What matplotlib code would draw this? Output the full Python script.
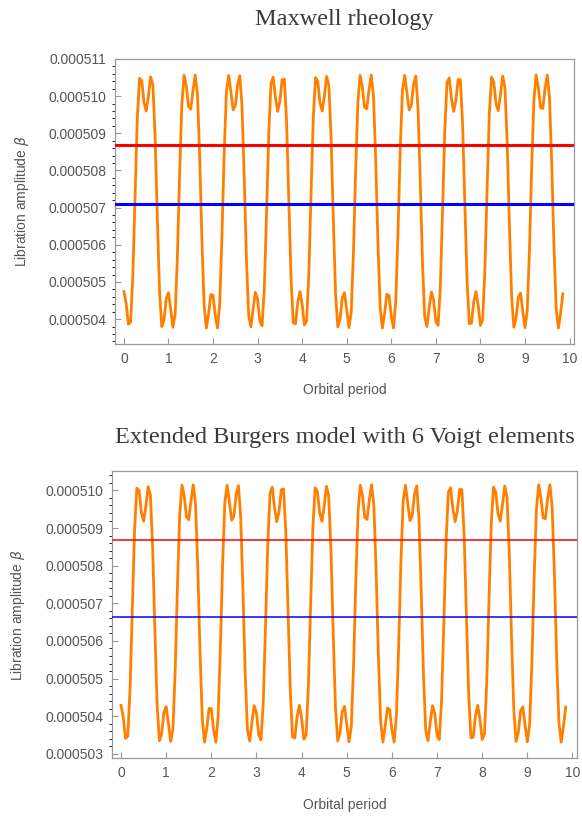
import numpy as np
import matplotlib
matplotlib.use('Agg')
import matplotlib.pyplot as plt
from matplotlib.ticker import MultipleLocator, FuncFormatter

# libration amplitude, in units of 1e-6, sampled every 0.05 orbital period
beta_maxwell = [
    504.74, 504.42, 503.86, 503.92, 505.17, 507.31, 509.39, 510.48, 510.42, 509.84,
    509.60, 509.99, 510.52, 510.31, 508.91, 506.72, 504.73, 503.80, 503.98, 504.55,
    504.71, 504.26, 503.78, 504.13, 505.68, 507.90, 509.79, 510.56, 510.28, 509.72,
    509.65, 510.15, 510.57, 510.06, 508.38, 506.14, 504.37, 503.76, 504.13, 504.66,
    504.64, 504.10, 503.76, 504.42, 506.23, 508.47, 510.11, 510.56, 510.12, 509.63,
    509.74, 510.30, 510.55, 509.73, 507.81, 505.59, 504.09, 503.79, 504.29, 504.72,
    504.53, 503.96, 503.82, 504.80, 506.81, 508.99, 510.34, 510.51, 509.97, 509.59,
    509.86, 510.44, 510.46, 509.32, 507.22, 505.10, 503.90, 503.87, 504.44, 504.74,
    504.39, 503.84, 503.95, 505.25, 507.41, 509.45, 510.50, 510.40, 509.82, 509.60,
    510.01, 510.53, 510.28, 508.84, 506.63, 504.67, 503.79, 504.00, 504.57, 504.71,
    504.24, 503.77, 504.17, 505.76, 507.99, 509.84, 510.56, 510.26, 509.70, 509.66,
    510.17, 510.57, 510.02, 508.30, 506.05, 504.32, 503.76, 504.15, 504.67, 504.63,
    504.08, 503.76, 504.47, 506.32, 508.55, 510.15, 510.56, 510.10, 509.63, 509.75,
    510.33, 510.54, 509.67, 507.72, 505.51, 504.06, 503.80, 504.31, 504.73, 504.51,
    503.94, 503.83, 504.86, 506.90, 509.07, 510.37, 510.49, 509.94, 509.59, 509.89,
    510.45, 510.44, 509.25, 507.13, 505.03, 503.88, 503.89, 504.46, 504.74, 504.37,
    503.83, 503.98, 505.32, 507.50, 509.52, 510.51, 510.38, 509.80, 509.61, 510.04,
    510.54, 510.25, 508.76, 506.54, 504.61, 503.78, 504.02, 504.59, 504.70, 504.21,
    503.77, 504.21, 505.84, 508.08, 509.89, 510.57, 510.23, 509.69, 509.67, 510.20,
    510.57, 509.97, 508.21, 505.97, 504.28, 503.76, 504.17, 504.68,
]

beta_burgers = [
    504.29, 503.97, 503.41, 503.47, 504.73, 506.88, 508.96, 510.06, 510.00, 509.42,
    509.18, 509.57, 510.10, 509.89, 508.48, 506.28, 504.28, 503.35, 503.53, 504.10,
    504.26, 503.81, 503.33, 503.68, 505.23, 507.47, 509.36, 510.14, 509.86, 509.30,
    509.22, 509.73, 510.15, 509.64, 507.95, 505.70, 503.92, 503.31, 503.68, 504.21,
    504.20, 503.65, 503.31, 503.98, 505.79, 508.04, 509.69, 510.14, 509.70, 509.21,
    509.31, 509.88, 510.13, 509.31, 507.38, 505.15, 503.64, 503.34, 503.84, 504.28,
    504.09, 503.51, 503.37, 504.35, 506.37, 508.56, 509.92, 510.09, 509.54, 509.17,
    509.44, 510.02, 510.04, 508.89, 506.79, 504.66, 503.45, 503.42, 503.99, 504.29,
    503.95, 503.39, 503.50, 504.80, 506.97, 509.03, 510.07, 509.98, 509.40, 509.18,
    509.59, 510.11, 509.86, 508.41, 506.19, 504.23, 503.34, 503.55, 504.12, 504.26,
    503.79, 503.32, 503.72, 505.32, 507.56, 509.42, 510.14, 509.84, 509.28, 509.23,
    509.75, 510.15, 509.60, 507.87, 505.61, 503.88, 503.31, 503.70, 504.22, 504.18,
    503.63, 503.31, 504.03, 505.88, 508.12, 509.73, 510.14, 509.68, 509.20, 509.33,
    509.90, 510.12, 509.25, 507.29, 505.07, 503.61, 503.35, 503.86, 504.28, 504.07,
    503.49, 503.38, 504.42, 506.47, 508.64, 509.95, 510.07, 509.52, 509.17, 509.46,
    510.03, 510.02, 508.82, 506.70, 504.59, 503.43, 503.44, 504.01, 504.29, 503.92,
    503.38, 503.53, 504.88, 507.06, 509.09, 510.09, 509.96, 509.38, 509.18, 509.62,
    510.12, 509.82, 508.33, 506.10, 504.17, 503.33, 503.57, 504.14, 504.25, 503.76,
    503.32, 503.76, 505.40, 507.65, 509.47, 510.15, 509.81, 509.27, 509.25, 509.78,
    510.15, 509.55, 507.78, 505.53, 503.83, 503.31, 503.73, 504.24,
]

# horizontal reference levels (1e-6)
red_maxwell, blue_maxwell = 508.68, 507.09
red_burgers, blue_burgers = 508.69, 506.64

t = np.arange(len(beta_maxwell)) * 0.05

fig = plt.figure(figsize=(5.82, 8.18), dpi=100)
plt.rcParams['font.family'] = ['Liberation Sans', 'DejaVu Sans']


def panel(rect, y, red, blue, ylim, lw_h, title, ty, ylx, ylab_y, xlab_y):
    ax = fig.add_axes(rect)
    ax.plot(t, np.array(y) * 1e-6, color='#ff8000', lw=2.0, zorder=2)
    ax.axhline(red * 1e-6, color='red', lw=lw_h, zorder=3)
    ax.axhline(blue * 1e-6, color='blue', lw=lw_h, zorder=3)
    ax.set_xlim(-0.2, 10.1)
    ax.set_ylim(ylim[0] * 1e-6, ylim[1] * 1e-6)
    ax.xaxis.set_major_locator(MultipleLocator(1))
    ax.yaxis.set_major_locator(MultipleLocator(1e-6))
    ax.yaxis.set_minor_locator(MultipleLocator(0.2e-6))
    ax.yaxis.set_major_formatter(FuncFormatter(lambda v, p: '%.6f' % v))
    ax.tick_params(direction='in', colors='#999999', labelcolor='#555555', labelsize=10,
                   top=False, right=False)
    ax.tick_params(which='major', length=4, width=0.8, pad=6)
    ax.tick_params(which='minor', length=2, width=0.6)
    for s in ax.spines.values():
        s.set_color('#999999')
        s.set_linewidth(0.9)
    cx = rect[0] + rect[2] / 2
    fig.text(cx, 1 - ty / 818, title, ha='center', va='center',
             family='Liberation Serif', fontsize=17.5, color='#3a3a3a')
    fig.text(ylx / 582, 1 - ylab_y / 818, r'Libration amplitude $\beta$', rotation=90,
             ha='center', va='center', fontsize=10, color='#555555')
    fig.text(cx, 1 - xlab_y / 818, 'Orbital period',
             ha='center', va='center', fontsize=10, color='#555555')
    return ax


panel([115 / 582, 1 - 344 / 818, 459 / 582, 285 / 818], beta_maxwell,
      red_maxwell, blue_maxwell, (503.33, 511.0), 2.2,
      'Maxwell rheology', 20, 22, 201, 390)
panel([112 / 582, 1 - 758 / 818, 465 / 582, 287.5 / 818], beta_burgers,
      red_burgers, blue_burgers, (502.89, 510.53), 1.1,
      'Extended Burgers model with 6 Voigt elements', 438, 18, 615, 805)

fig.savefig('out.png', dpi=100)
